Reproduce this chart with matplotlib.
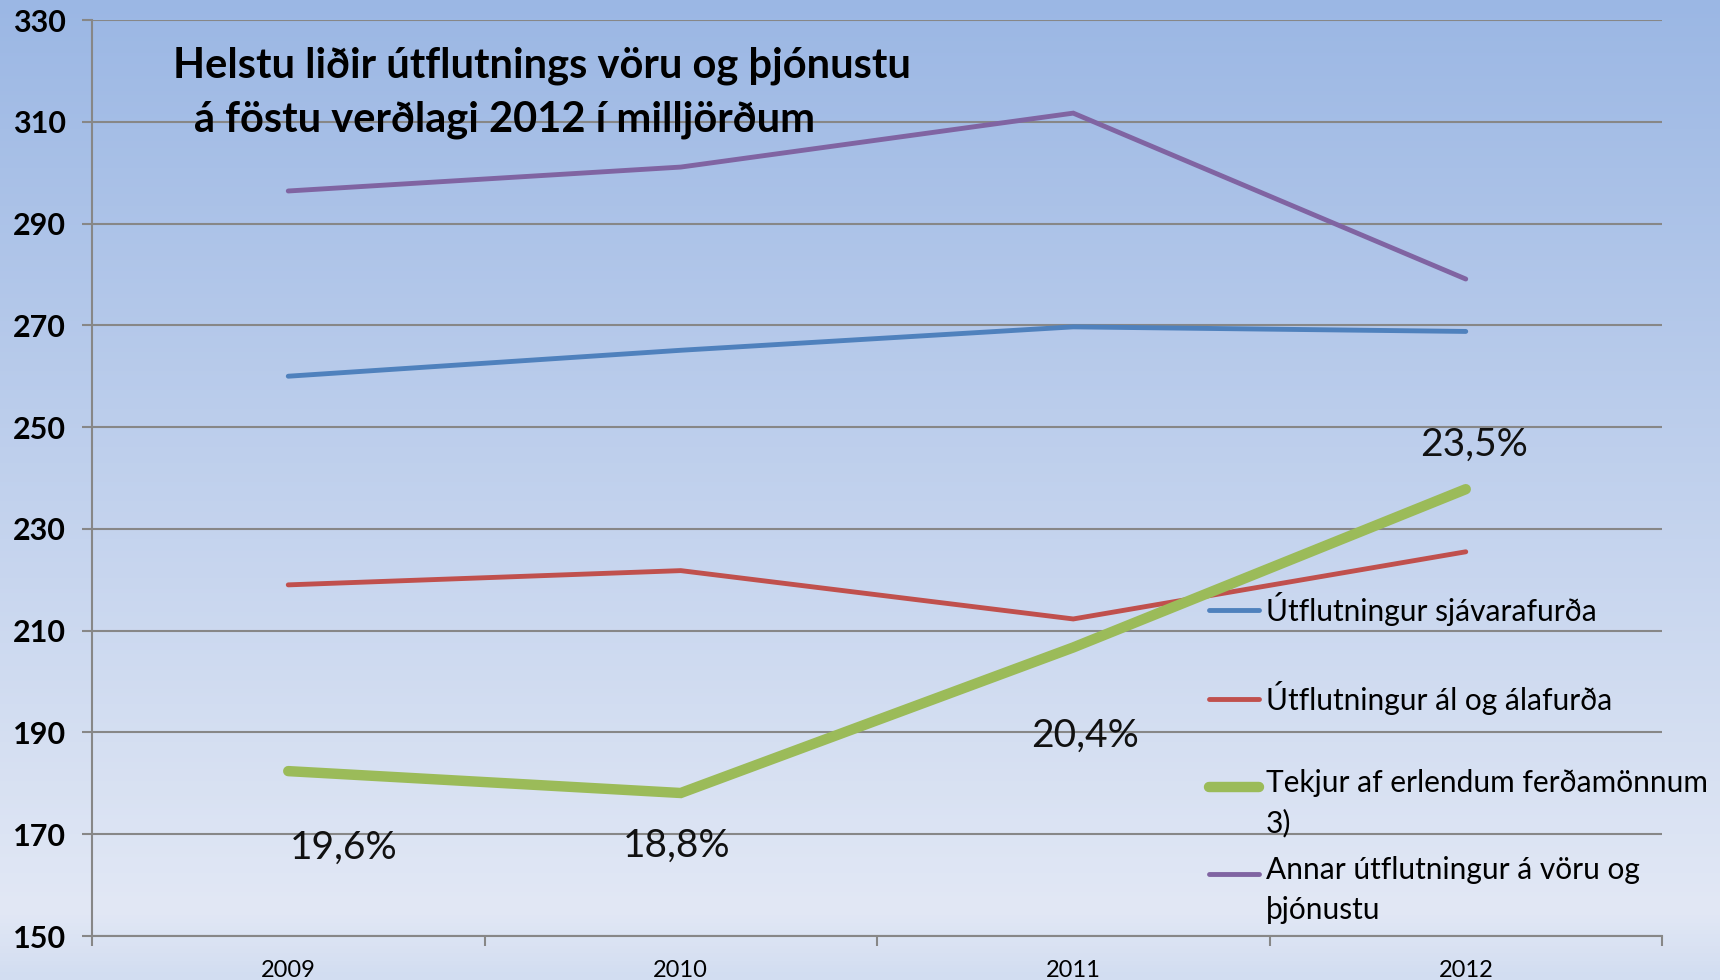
import numpy as np
import matplotlib.pyplot as plt
from matplotlib.colors import LinearSegmentedColormap
from matplotlib.lines import Line2D

plt.rcParams['font.family'] = ['Lato', 'DejaVu Sans']

# gögn lesin af myndinni (milljarðar kr.)
years = ["2009", "2010", "2011", "2012"]
sjavarafurdir = [260.0, 265.1, 269.7, 268.8]
al_afurdir = [219.0, 221.8, 212.3, 225.5]
ferdamenn = [182.4, 178.1, 206.7, 237.8]
annar = [296.4, 301.1, 311.7, 279.1]

labels = ["Útflutningur sjávarafurða",
          "Útflutningur ál og álafurða",
          "Tekjur af erlendum ferðamönnum\n3)",
          "Annar útflutningur á vöru og\nþjónustu"]
colors = ["#4F81BD", "#C0504D", "#9BBB59", "#8064A2"]
widths = [3.5, 3.5, 7.5, 3.5]

hlutfall = ["19,6%", "18,8%", "20,4%", "23,5%"]
hlutfall_x = [0.14, 0.99, 2.03, 3.02]
hlutfall_y = [167.3, 167.7, 189.3, 246.6]

yticks = [150, 170, 190, 210, 230, 250, 270, 290, 310, 330]

W, H = 1720, 980
fig = plt.figure(figsize=(W / 100, H / 100), dpi=100)

# bakgrunnur með litaskiptingu
bg = fig.add_axes([0, 0, 1, 1], zorder=-10)
cmap = LinearSegmentedColormap.from_list(
    "bg", [(0, "#9BB7E4"), (0.93, "#E2E8F5"), (1.0, "#D2DDF1")])
grad = np.linspace(0, 1, 256).reshape(-1, 1)
bg.imshow(grad, aspect="auto", cmap=cmap, extent=[0, 1, 0, 1])
bg.axis("off")

ax = fig.add_axes([92 / W, 1 - 936 / H, (1662 - 92) / W, (936 - 20) / H])
ax.set_facecolor("none")

x = np.arange(len(years))
series = [sjavarafurdir, al_afurdir, ferdamenn, annar]
z = [3, 3, 5, 3]
for vals, c, lw, zz in zip(series, colors, widths, z):
    ax.plot(x, vals, color=c, lw=lw, solid_capstyle="round",
            solid_joinstyle="miter", zorder=zz)

for t, xx, yy in zip(hlutfall, hlutfall_x, hlutfall_y):
    ax.text(xx, yy, t, fontsize=28, ha="center", va="center", color="#111111")

ax.set_xlim(-0.5, 3.5)
ax.set_ylim(150, 330)
ax.set_yticks(yticks)
ax.set_yticklabels([str(v) for v in yticks], fontsize=22, fontweight="bold")
ax.yaxis.grid(True, color="#878787", lw=1.5)
ax.set_axisbelow(True)

ax.set_xticks(x)
ax.set_xticklabels(years, fontsize=17)
ax.set_xticks(np.arange(-0.5, 4, 1), minor=True)
ax.tick_params(axis="x", which="major", length=0, pad=17)
ax.tick_params(axis="x", which="minor", length=7, width=1.5, color="#878787")
ax.tick_params(axis="y", length=7, width=1.5, color="#878787", pad=12)

for s in ["top", "right"]:
    ax.spines[s].set_visible(False)
ax.spines["left"].set_color("#878787")
ax.spines["left"].set_linewidth(1.5)
ax.spines["bottom"].set_color("#878787")
ax.spines["bottom"].set_linewidth(1.5)

# titill
fig.text(173 / W, 1 - 66 / H, "Helstu liðir útflutnings vöru og þjónustu",
         fontsize=30, fontweight="bold", va="center", ha="left")
fig.text(194 / W, 1 - 120 / H, "á föstu verðlagi 2012 í milljörðum",
         fontsize=30, fontweight="bold", va="center", ha="left")

# skýringar
leg_y = [610, 699, 787, 874]
for lab, c, lw, yy in zip(labels, colors, widths, leg_y):
    fig.add_artist(Line2D([1209 / W, 1259 / W], [1 - yy / H, 1 - yy / H],
                          color=c, lw=lw, solid_capstyle="round"))
    fig.text(1266 / W, 1 - (yy - 18) / H, lab, fontsize=21.5, va="top",
             ha="left", linespacing=1.5)

fig.savefig("out.png", dpi=100)
